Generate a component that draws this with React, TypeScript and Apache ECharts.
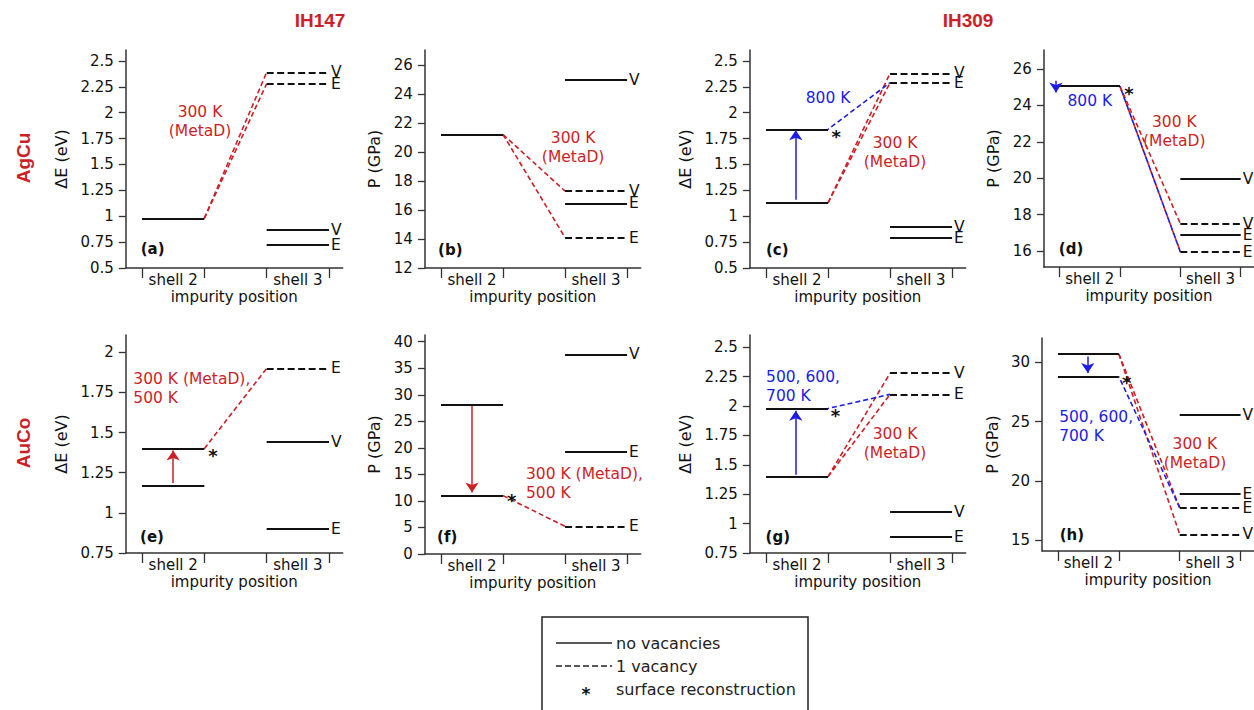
import React, { useEffect, useRef } from "react";
import * as echarts from "echarts";

const RED = "#cc1f26";
const BLUE = "#1c1ce6";
const INK = "#111111";
const AXIS = "#333333";
const FONT = "'DejaVu Sans', Verdana, sans-serif";
const TITLE_FONT = "'Liberation Sans', Arial, sans-serif";

const columnTitles = ["IH147", "IH309"];
const rowTitles = ["AgCu", "AuCo"];
const shellNames = ["shell 2", "shell 3"];
const shellCenters = [0.5, 2.5];
const shellEdges = [0, 1, 2, 3];
const xTitle = "impurity position";
const panelTags = ["(a)", "(b)", "(c)", "(d)", "(e)", "(f)", "(g)", "(h)"];
const yTitles = ["ΔE (eV)", "P (GPa)", "ΔE (eV)", "P (GPa)", "ΔE (eV)", "P (GPa)", "ΔE (eV)", "P (GPa)"];
const legendLabels = ["no vacancies", "1 vacancy", "surface reconstruction"];

// (a) AgCu, IH147, ΔE
const aTicks = [0.5, 0.75, 1, 1.25, 1.5, 1.75, 2, 2.25, 2.5];
const aShell2 = [0.98];
const aShell3Solid = [0.87, 0.72];
const aShell3SolidTags = ["V", "E"];
const aShell3Dashed = [2.39, 2.28];
const aShell3DashedTags = ["V", "E"];
const aRed = [[0.98, 2.39], [0.98, 2.28]];
const aBlue: number[][] = [];
const aArrows: number[][] = [];

// (b) AgCu, IH147, P
const bTicks = [12, 14, 16, 18, 20, 22, 24, 26];
const bShell2 = [21.2];
const bShell3Solid = [24.97, 16.45];
const bShell3SolidTags = ["V", "E"];
const bShell3Dashed = [17.3, 14.1];
const bShell3DashedTags = ["V", "E"];
const bRed = [[21.2, 17.3], [21.2, 14.1]];
const bBlue: number[][] = [];
const bArrows: number[][] = [];

// (c) AgCu, IH309, ΔE
const cTicks = [0.5, 0.75, 1, 1.25, 1.5, 1.75, 2, 2.25, 2.5];
const cShell2 = [1.84, 1.13];
const cShell3Solid = [0.9, 0.79];
const cShell3SolidTags = ["V", "E"];
const cShell3Dashed = [2.38, 2.29];
const cShell3DashedTags = ["V", "E"];
const cRed = [[1.13, 2.38], [1.13, 2.29]];
const cBlue = [[1.84, 2.29]];
const cArrows = [[1.16, 1.83]];

// (d) AgCu, IH309, P
const dTicks = [16, 18, 20, 22, 24, 26];
const dShell2 = [25.05];
const dShell3Solid = [19.98, 16.9];
const dShell3SolidTags = ["V", "E"];
const dShell3Dashed = [17.5, 15.95];
const dShell3DashedTags = ["V", "E"];
const dRed = [[25.05, 17.5], [25.05, 15.95]];
const dBlue = [[25.05, 15.95]];
const dArrows = [[25.35, 24.7]];

// (e) AuCo, IH147, ΔE
const eTicks = [0.75, 1, 1.25, 1.5, 1.75, 2];
const eShell2 = [1.4, 1.17];
const eShell3Solid = [1.44, 0.9];
const eShell3SolidTags = ["V", "E"];
const eShell3Dashed = [1.9];
const eShell3DashedTags = ["E"];
const eRed = [[1.4, 1.9]];
const eBlue: number[][] = [];
const eArrows = [[1.186, 1.388]];

// (f) AuCo, IH147, P
const fTicks = [0, 5, 10, 15, 20, 25, 30, 35, 40];
const fShell2 = [28.2, 11.0];
const fShell3Solid = [37.6, 19.3];
const fShell3SolidTags = ["V", "E"];
const fShell3Dashed = [5.2];
const fShell3DashedTags = ["E"];
const fRed = [[11.0, 5.2]];
const fBlue: number[][] = [];
const fArrows = [[27.9, 11.6]];

// (g) AuCo, IH309, ΔE
const gTicks = [0.75, 1, 1.25, 1.5, 1.75, 2, 2.25, 2.5];
const gShell2 = [1.98, 1.4];
const gShell3Solid = [1.1, 0.89];
const gShell3SolidTags = ["V", "E"];
const gShell3Dashed = [2.28, 2.1];
const gShell3DashedTags = ["V", "E"];
const gRed = [[1.4, 2.28], [1.4, 2.1]];
const gBlue = [[1.98, 2.1]];
const gArrows = [[1.415, 1.96]];

// (h) AuCo, IH309, P
const hTicks = [15, 20, 25, 30];
const hShell2 = [30.7, 28.8];
const hShell3Solid = [25.6, 18.9];
const hShell3SolidTags = ["V", "E"];
const hShell3Dashed = [17.75, 15.5];
const hShell3DashedTags = ["E", "V"];
const hRed = [[30.7, 15.5], [30.7, 17.75]];
const hBlue = [[28.8, 17.75]];
const hArrows = [[30.5, 29.1]];

// ---------- layout (pixels / data-space placements) ----------
const XMIN = -0.26;
const XMAX = 3.22;

const panels = [
  { grid: { left: 125.8, top: 50, width: 216.9, height: 218 }, ymin: 0.5, ymax: 2.606, ticks: aTicks, s2: aShell2, s3: aShell3Solid, s3t: aShell3SolidTags, d3: aShell3Dashed, d3t: aShell3DashedTags, red: aRed, blue: aBlue, arrows: aArrows, arrowColor: RED, arrowX: 0.5, nameGap: 56,
    notes: [{ x: 0.93, y: 1.92, text: "300 K\n(MetaD)", color: RED, align: "center" }], star: null as null | number[], tag: [0.17, 0.68] },
  { grid: { left: 424.9, top: 50, width: 215.8, height: 218 }, ymin: 12, ymax: 27.03, ticks: bTicks, s2: bShell2, s3: bShell3Solid, s3t: bShell3SolidTags, d3: bShell3Dashed, d3t: bShell3DashedTags, red: bRed, blue: bBlue, arrows: bArrows, arrowColor: RED, arrowX: 0.5, nameGap: 42,
    notes: [{ x: 2.13, y: 20.34, text: "300 K\n(MetaD)", color: RED, align: "center" }], star: null, tag: [0.15, 13.24] },
  { grid: { left: 749.9, top: 50, width: 215.8, height: 218 }, ymin: 0.5, ymax: 2.606, ticks: cTicks, s2: cShell2, s3: cShell3Solid, s3t: cShell3SolidTags, d3: cShell3Dashed, d3t: cShell3DashedTags, red: cRed, blue: cBlue, arrows: cArrows, arrowColor: BLUE, arrowX: 0.48, nameGap: 56,
    notes: [{ x: 1.0, y: 2.14, text: "800 K", color: BLUE, align: "center" }, { x: 2.08, y: 1.62, text: "300 K\n(MetaD)", color: RED, align: "center" }], star: [1.13, 1.82], tag: [0.18, 0.67] },
  { grid: { left: 1043.9, top: 50, width: 215.8, height: 217 }, ymin: 15.12, ymax: 27.04, ticks: dTicks, s2: dShell2, s3: dShell3Solid, s3t: dShell3SolidTags, d3: dShell3Dashed, d3t: dShell3DashedTags, red: dRed, blue: dBlue, arrows: dArrows, arrowColor: BLUE, arrowX: -0.06, nameGap: 42,
    notes: [{ x: 0.5, y: 24.24, text: "800 K", color: BLUE, align: "center" }, { x: 1.9, y: 22.54, text: "300 K\n(MetaD)", color: RED, align: "center" }], star: [1.15, 24.9], tag: [0.19, 16.1] },
  { grid: { left: 125.8, top: 335, width: 216.9, height: 218 }, ymin: 0.75, ymax: 2.108, ticks: eTicks, s2: eShell2, s3: eShell3Solid, s3t: eShell3SolidTags, d3: eShell3Dashed, d3t: eShell3DashedTags, red: eRed, blue: eBlue, arrows: eArrows, arrowColor: RED, arrowX: 0.5, nameGap: 56,
    notes: [{ x: -0.14, y: 1.776, text: "300 K (MetaD),\n500 K", color: RED, align: "left" }], star: [1.14, 1.386], tag: [0.16, 0.85] },
  { grid: { left: 424.9, top: 335, width: 215.8, height: 219 }, ymin: 0, ymax: 41.26, ticks: fTicks, s2: fShell2, s3: fShell3Solid, s3t: fShell3SolidTags, d3: fShell3Dashed, d3t: fShell3DashedTags, red: fRed, blue: fBlue, arrows: fArrows, arrowColor: RED, arrowX: 0.5, nameGap: 42,
    notes: [{ x: 1.37, y: 13.2, text: "300 K (MetaD),\n500 K", color: RED, align: "left" }], star: [1.14, 10.96], tag: [0.1, 3.25] },
  { grid: { left: 749.9, top: 335, width: 215.8, height: 218 }, ymin: 0.75, ymax: 2.605, ticks: gTicks, s2: gShell2, s3: gShell3Solid, s3t: gShell3SolidTags, d3: gShell3Dashed, d3t: gShell3DashedTags, red: gRed, blue: gBlue, arrows: gArrows, arrowColor: BLUE, arrowX: 0.48, nameGap: 56,
    notes: [{ x: 0.0, y: 2.163, text: "500, 600,\n700 K", color: BLUE, align: "left" }, { x: 2.08, y: 1.683, text: "300 K\n(MetaD)", color: RED, align: "center" }], star: [1.12, 1.96], tag: [0.19, 0.89] },
  { grid: { left: 1042.1, top: 338, width: 212.3, height: 213 }, ymin: 14.1, ymax: 32.05, ticks: hTicks, s2: hShell2, s3: hShell3Solid, s3t: hShell3SolidTags, d3: hShell3Dashed, d3t: hShell3DashedTags, red: hRed, blue: hBlue, arrows: hArrows, arrowColor: BLUE, arrowX: 0.49, nameGap: 42,
    notes: [{ x: 0.02, y: 24.62, text: "500, 600,\n700 K", color: BLUE, align: "left" }, { x: 2.25, y: 22.34, text: "300 K\n(MetaD)", color: RED, align: "center" }], star: [1.13, 28.76], tag: [0.23, 15.42] },
];

const plainLabel = { textBorderWidth: 0, textBorderColor: "transparent", textShadowBlur: 0, opacity: 1, fontFamily: FONT };

function buildOption() {
  const grid: any[] = [];
  const xAxis: any[] = [];
  const yAxis: any[] = [];
  const series: any[] = [];

  panels.forEach((p, i) => {
    grid.push({ ...p.grid, containLabel: false });
    xAxis.push({
      type: "value",
      gridIndex: i,
      min: XMIN,
      max: XMAX,
      axisLine: { show: true, onZero: false, lineStyle: { color: AXIS, width: 1.5 } },
      axisTick: { show: true, customValues: shellEdges, length: 10, lineStyle: { color: AXIS, width: 1.3 } },
      axisLabel: {
        show: true,
        customValues: shellCenters,
        formatter: (v: number) => {
          const k = shellCenters.indexOf(v);
          return k >= 0 ? shellNames[k] : "";
        },
        margin: 4,
        fontSize: 15,
        fontFamily: FONT,
        color: INK,
      },
      splitLine: { show: false },
      name: xTitle,
      nameLocation: "middle",
      nameGap: 21,
      nameTextStyle: { fontSize: 15, fontFamily: FONT, color: INK },
    });
    yAxis.push({
      type: "value",
      gridIndex: i,
      min: p.ymin,
      max: p.ymax,
      axisLine: { show: true, onZero: false, lineStyle: { color: AXIS, width: 1.5 } },
      axisTick: { show: true, customValues: p.ticks, length: 7, lineStyle: { color: AXIS, width: 1.3 } },
      axisLabel: { show: true, customValues: p.ticks, margin: 12, fontSize: 15, fontFamily: FONT, color: INK },
      splitLine: { show: false },
      name: yTitles[i],
      nameLocation: "middle",
      nameGap: p.nameGap,
      nameTextStyle: { fontSize: 16, fontFamily: FONT, color: INK },
    });

    const base = { type: "lines", coordinateSystem: "cartesian2d", xAxisIndex: i, yAxisIndex: i, silent: true, animation: false, polyline: false };

    series.push({
      ...base, z: 2,
      data: p.red.map(([a, b]) => ({ coords: [[1, a], [2, b]] })),
      lineStyle: { color: RED, width: 1.6, type: [5, 3], opacity: 1 },
    });
    series.push({
      ...base, z: 3,
      data: p.blue.map(([a, b]) => ({ coords: [[1, a], [2, b]] })),
      lineStyle: { color: BLUE, width: 1.6, type: [5, 3], dashOffset: 4, opacity: 1 },
    });
    series.push({
      ...base, z: 4,
      data: [
        ...p.s2.map((v) => ({ coords: [[0, v], [1, v]] })),
        ...p.s3.map((v) => ({ coords: [[2, v], [3, v]] })),
      ],
      lineStyle: { color: INK, width: 2, type: "solid", opacity: 1 },
    });
    series.push({
      ...base, z: 4,
      data: p.d3.map((v) => ({ coords: [[2, v], [3, v]] })),
      lineStyle: { color: INK, width: 2, type: [7, 3.5], opacity: 1 },
    });
    series.push({
      ...base, z: 5,
      symbol: ["none", "arrow"],
      symbolSize: 10,
      data: p.arrows.map(([a, b]) => ({ coords: [[p.arrowX, a], [p.arrowX, b]] })),
      lineStyle: { color: p.arrowColor, width: 1.5, type: "solid", opacity: 1 },
    });

    const labelItems: any[] = [];
    const levelTag = (v: number, t: string) => ({
      value: [3, v],
      label: { ...plainLabel, formatter: t, position: "right", distance: 2, fontSize: 15.5, lineHeight: 9, color: INK },
    });
    p.s3.forEach((v, k) => labelItems.push(levelTag(v, p.s3t[k])));
    p.d3.forEach((v, k) => labelItems.push(levelTag(v, p.d3t[k])));
    p.notes.forEach((n) =>
      labelItems.push({
        value: [n.x, n.y],
        label: { ...plainLabel, formatter: n.text, position: "inside", align: n.align, verticalAlign: "middle", fontSize: 15.5, lineHeight: 19, color: n.color },
      })
    );
    if (p.star) {
      labelItems.push({
        value: p.star,
        label: { ...plainLabel, formatter: "*", position: "inside", align: "center", verticalAlign: "middle", fontSize: 18, fontWeight: "bold", color: INK, offset: [0, 5] },
      });
    }
    labelItems.push({
      value: p.tag,
      label: { ...plainLabel, formatter: panelTags[i], position: "inside", align: "center", verticalAlign: "middle", fontSize: 15, fontWeight: "bold", color: INK },
    });
    series.push({
      type: "scatter",
      xAxisIndex: i,
      yAxisIndex: i,
      silent: true,
      symbol: "circle",
      symbolSize: 0.01,
      z: 6,
      itemStyle: { color: "#ffffff", opacity: 1 },
      label: { show: true, ...plainLabel },
      data: labelItems,
    });
  });

  const graphic: any[] = [
    { type: "text", x: 320, y: 20, style: { text: columnTitles[0], fill: RED, font: `bold 19px ${TITLE_FONT}`, textAlign: "center", textVerticalAlign: "middle" } },
    { type: "text", x: 968, y: 20, style: { text: columnTitles[1], fill: RED, font: `bold 19px ${TITLE_FONT}`, textAlign: "center", textVerticalAlign: "middle" } },
    { type: "text", x: 23, y: 158, rotation: Math.PI / 2, style: { text: rowTitles[0], fill: RED, font: `bold 19px ${TITLE_FONT}`, textAlign: "center", textVerticalAlign: "middle" } },
    { type: "text", x: 23, y: 443, rotation: Math.PI / 2, style: { text: rowTitles[1], fill: RED, font: `bold 19px ${TITLE_FONT}`, textAlign: "center", textVerticalAlign: "middle" } },
    { type: "rect", shape: { x: 542, y: 617, width: 266, height: 110 }, style: { fill: "#fff", stroke: "#222", lineWidth: 1.5 } },
    { type: "line", shape: { x1: 556, y1: 643, x2: 612, y2: 643 }, style: { stroke: "#222", lineWidth: 1.5 } },
    { type: "line", shape: { x1: 556, y1: 666, x2: 612, y2: 666 }, style: { stroke: "#222", lineWidth: 1.5, lineDash: [6, 3] } },
    { type: "text", x: 586, y: 694, style: { text: "*", fill: "#111", font: `bold 17px ${FONT}`, textAlign: "center", textVerticalAlign: "middle" } },
    { type: "text", x: 616, y: 643, style: { text: legendLabels[0], fill: "#222", font: `16px ${FONT}`, textVerticalAlign: "middle" } },
    { type: "text", x: 616, y: 666, style: { text: legendLabels[1], fill: "#222", font: `16px ${FONT}`, textVerticalAlign: "middle" } },
    { type: "text", x: 616, y: 689, style: { text: legendLabels[2], fill: "#222", font: `16px ${FONT}`, textVerticalAlign: "middle" } },
  ];

  return {
    animation: false,
    backgroundColor: "#ffffff",
    textStyle: { fontFamily: FONT },
    grid,
    xAxis,
    yAxis,
    series,
    graphic,
  };
}

export default function App() {
  const ref = useRef<HTMLDivElement>(null);
  useEffect(() => {
    if (!ref.current) return;
    const chart = echarts.init(ref.current, null, { renderer: "svg" });
    chart.setOption(buildOption() as any);
    return () => chart.dispose();
  }, []);
  return (
    <div
      ref={ref}
      style={{ position: "absolute", left: 0, top: 0, width: 1254, height: 710, background: "#fff" }}
    />
  );
}
